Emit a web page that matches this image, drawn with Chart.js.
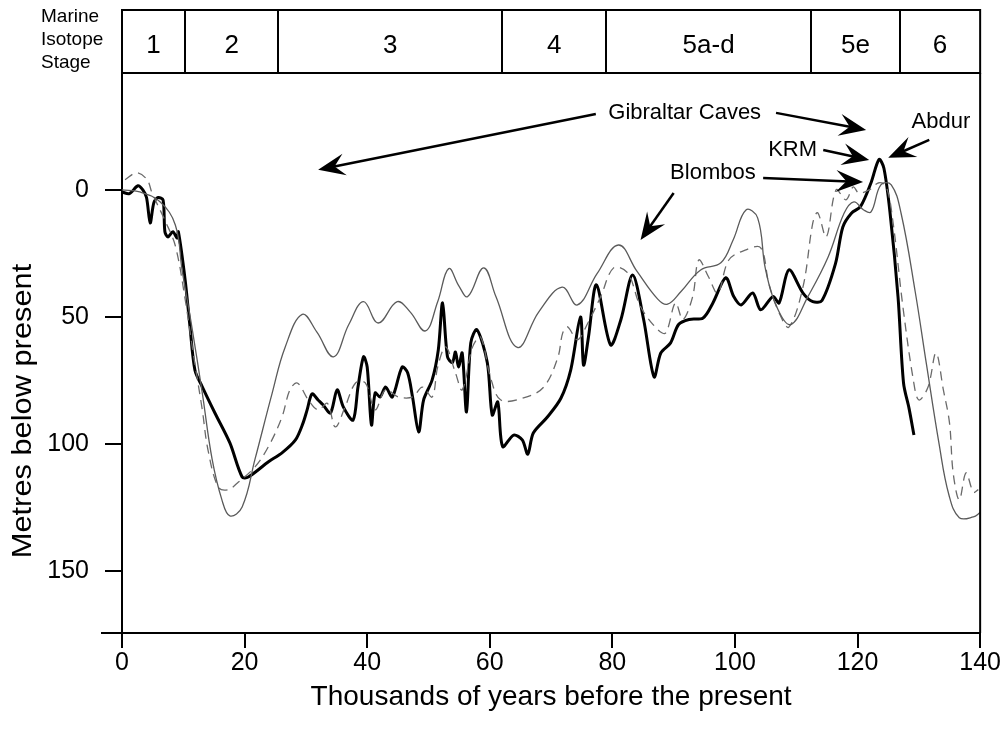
<!DOCTYPE html>
<html>
<head>
<meta charset="utf-8">
<script src="https://cdn.jsdelivr.net/npm/chart.js@4.4.1/dist/chart.umd.min.js"></script>
<style>
  html, body { margin: 0; padding: 0; background: #fff; }
  #wrap { width: 1001px; height: 738px; }
</style>
</head>
<body>
<div id="wrap"><canvas id="seaChart" width="1001" height="738"></canvas></div>
<script>
// Sea level curves, thousands of years BP vs metres below present

// thick black record
const thickAge = [0, 1.2, 2.6, 3.4, 4.0, 4.6, 5.2, 5.9, 6.7, 7.0, 7.5, 8.3, 9.0, 9.2, 10.3, 11.1, 11.9, 13.1, 15.2, 17.6, 19.6, 20.6, 23.9, 26.1, 28.3, 29.5, 30.2, 31.0, 32.0, 32.8, 34.0, 35.1, 36.1, 37.7, 38.5, 39.4, 40.0, 40.7, 41.3, 42.1, 43.0, 44.1, 45.7, 46.6, 47.4, 48.4, 49.2, 50.6, 51.6, 52.3, 53.1, 53.9, 54.4, 54.9, 55.5, 56.2, 56.9, 57.9, 59.6, 60.4, 61.3, 62.1, 63.9, 65.3, 66.2, 67.1, 69.4, 71.6, 73.2, 74.8, 75.3, 76.1, 77.4, 79.7, 81.4, 83.3, 85.1, 86.8, 87.9, 89.5, 90.8, 92.5, 94.8, 96.4, 98.5, 99.8, 101.0, 102.9, 104.2, 106.2, 107.2, 108.8, 111.1, 112.7, 114.2, 116.4, 117.6, 119.0, 120.5, 122.2, 123.5, 124.3, 125.3, 126.6, 127.5, 128.4, 129.2];
const thickDepth = [0.8, 1.5, -1.6, 0, 3, 13, 5, 3, 4, 16.5, 18.5, 16.5, 19, 16.5, 35.4, 54, 71, 77.5, 88, 99.6, 113, 113, 107, 103.5, 98.4, 92, 86.6, 80.3, 82.7, 84.6, 87.8, 78.7, 85.4, 90.6, 77.6, 65.7, 69.7, 92.5, 79.9, 81.5, 77.6, 81.5, 69.7, 72, 81.5, 95.3, 82.7, 74.8, 63, 44.5, 65.7, 68, 63.8, 69.7, 64.2, 87.4, 60.2, 55, 68, 88.6, 83.5, 101, 96.5, 98.4, 104, 95.7, 89.4, 82, 70.9, 50, 69, 57.9, 37.4, 61, 51, 33.5, 51, 73.6, 64.2, 60.2, 53, 51, 50.4, 44.5, 34.6, 42, 45.3, 40.6, 47.2, 42, 44.5, 31.5, 40.6, 44, 43.5, 29, 14.6, 9.2, 6.5, -2.8, -12, -8.5, 9, 42, 76, 86, 96.5];

// thin grey solid record
const thinAge = [0, 2.9, 6.2, 8.7, 9.8, 11.4, 13.1, 14.7, 16.3, 17.6, 19.6, 21.7, 24.5, 26.6, 29.4, 31.8, 34.5, 37.0, 39.4, 41.8, 44.9, 47.0, 49.5, 51.5, 53.3, 55.0, 56.4, 59.0, 61.0, 64.5, 68.0, 71.8, 74.3, 77.5, 81.0, 84.0, 87.4, 89.0, 91.2, 94.4, 97.7, 99.7, 101.8, 103.7, 105.0, 107.0, 109.1, 111.9, 115.2, 117.8, 119.4, 121.0, 122.2, 123.8, 125.5, 127.1, 129.4, 131.2, 133.3, 134.9, 136.6, 138.9, 140];
const thinDepth = [0, 0.8, 4.7, 13.8, 31.5, 54, 80, 106, 122, 128.3, 124.8, 106, 80, 62, 49, 56, 65.7, 53, 44, 52.4, 44, 48, 55.5, 44, 31, 38, 42, 30.7, 42, 62, 48, 38.3, 45.3, 33, 21.7, 32, 43, 45, 40, 31.5, 28.7, 19.7, 7.9, 11, 31.5, 47, 53, 42, 26.4, 9.2, 4.7, 7.9, 8.7, -2, -2, 9.2, 40, 68, 100, 120, 129, 128.7, 127];

// dashed grey record
const dashAge = [0.5, 2.4, 4.1, 4.9, 7.0, 8.7, 10.3, 11.6, 13.1, 14.0, 15.7, 17.3, 19.0, 21.7, 23.9, 26.1, 27.4, 28.6, 30.4, 32.0, 33.5, 34.8, 36.4, 38.1, 39.7, 41.3, 43.0, 45.1, 47.4, 49.0, 50.6, 51.5, 52.8, 54.4, 55.5, 57.2, 58.5, 60.1, 61.8, 65.5, 68.8, 71.1, 71.9, 72.7, 74.3, 76.0, 78.1, 80.2, 82.5, 84.6, 87.4, 88.7, 90.3, 91.5, 93.1, 94.1, 95.7, 97.2, 99.0, 101.8, 104.2, 105.5, 107.2, 108.8, 111.1, 112.7, 113.5, 114.9, 116.5, 118.1, 119.3, 120.2, 121.9, 123.5, 124.7, 125.8, 127.4, 129.1, 130.0, 131.5, 132.8, 134.0, 135.0, 135.6, 136.6, 137.7, 138.9, 139.7];
const dashDepth = [-4, -6.7, -4, 1.2, 12, 22, 43, 64, 86.6, 102, 117, 118, 115, 109, 101, 89.4, 78.7, 76, 82.7, 86.6, 84, 93.3, 85.4, 76, 76, 86.6, 78.7, 81.5, 81.5, 77.6, 81.5, 69.7, 61.8, 72, 78.7, 61.8, 57.9, 73.6, 82.7, 81.9, 77.6, 66, 56.3, 53.9, 59, 52.4, 42, 30.7, 32.7, 46, 55, 56.3, 44.5, 51, 42, 27.6, 34.3, 40.6, 27.6, 23.6, 22.8, 36.6, 48.4, 54, 38.2, 13, 9, 18.5, 0, 3.9, -1.2, 1.2, 0, -2.8, -1.2, 13, 46, 74.8, 82.7, 77.6, 64.2, 78.7, 91.7, 111.4, 122, 111.4, 119, 118];

// axis ticks
const xTicks = [0, 20, 40, 60, 80, 100, 120, 140];
const yTicks = [0, 50, 100, 150];

// marine isotope stages
const misLabels = ['1', '2', '3', '4', '5a-d', '5e', '6'];
const misBounds = [0, 10.3, 25.5, 62, 79, 112.4, 126.9, 140];

// site annotations (data units)
const annoTexts = [
  { text: 'Gibraltar Caves', x: 91.8, y: -30.3 },
  { text: 'KRM', x: 109.4, y: -15.7 },
  { text: 'Blombos', x: 96.4, y: -6.7 },
  { text: 'Abdur', x: 133.6, y: -26.8 }
];
const annoArrows = [
  { from: [77.3, -29.9], to: [32.0, -7.9] },
  { from: [106.7, -30.3], to: [121.4, -23.6] },
  { from: [114.4, -15.7], to: [121.9, -11.8] },
  { from: [104.6, -4.7], to: [120.9, -3.1] },
  { from: [131.7, -19.7], to: [125.0, -12.6] },
  { from: [90.0, 1.2], to: [84.6, 19.7] }
];

const FONT = '"Liberation Sans", Arial, sans-serif';

function pairs(xs, ys) {
  return xs.map((v, i) => ({ x: v, y: ys[i] }));
}

function drawArrow(ctx, x1, y1, x2, y2) {
  const ang = Math.atan2(y2 - y1, x2 - x1);
  const L = 27, W = 11;
  ctx.beginPath();
  ctx.moveTo(x1, y1);
  ctx.lineTo(x2 - Math.cos(ang) * 14, y2 - Math.sin(ang) * 14);
  ctx.stroke();
  ctx.save();
  ctx.translate(x2, y2);
  ctx.rotate(ang);
  ctx.beginPath();
  ctx.moveTo(0, 0);
  ctx.lineTo(-L, -W);
  ctx.lineTo(-L * 0.62, 0);
  ctx.lineTo(-L, W);
  ctx.closePath();
  ctx.fill();
  ctx.restore();
}

const overlay = {
  id: 'overlay',
  afterDraw(chart) {
    const { ctx, chartArea: a } = chart;
    const xs = chart.scales.x, ys = chart.scales.y;
    const bandTop = 10;
    ctx.save();
    ctx.strokeStyle = '#000';
    ctx.fillStyle = '#000';
    ctx.lineWidth = 2;

    // stage band
    ctx.strokeRect(a.left, bandTop, a.right - a.left, a.top - bandTop);
    ctx.beginPath();
    for (let i = 1; i < misBounds.length - 1; i++) {
      const px = Math.round(xs.getPixelForValue(misBounds[i]));
      ctx.moveTo(px, bandTop);
      ctx.lineTo(px, a.top);
    }
    ctx.stroke();
    ctx.font = '26px ' + FONT;
    ctx.textAlign = 'center';
    ctx.textBaseline = 'middle';
    for (let i = 0; i < misLabels.length; i++) {
      const cx = (xs.getPixelForValue(misBounds[i]) + xs.getPixelForValue(misBounds[i + 1])) / 2;
      ctx.fillText(misLabels[i], cx, 46);
    }
    ctx.font = '19px ' + FONT;
    ctx.textAlign = 'left';
    ctx.fillText('Marine', 41, 17);
    ctx.fillText('Isotope', 41, 40);
    ctx.fillText('Stage', 41, 63);

    // right frame + x axis running past the y axis
    ctx.beginPath();
    ctx.moveTo(a.right, a.top);
    ctx.lineTo(a.right, a.bottom);
    ctx.moveTo(101, a.bottom);
    ctx.lineTo(a.left, a.bottom);
    ctx.stroke();

    // y axis title, a little lower than the axis middle
    ctx.save();
    ctx.translate(23, 411);
    ctx.rotate(-Math.PI / 2);
    ctx.scale(1.1, 1);
    ctx.font = '28px ' + FONT;
    ctx.textAlign = 'center';
    ctx.fillText('Metres below present', 0, 0);
    ctx.restore();

    // annotations
    ctx.font = '22px ' + FONT;
    ctx.textAlign = 'center';
    for (const t of annoTexts) {
      ctx.fillText(t.text, xs.getPixelForValue(t.x), ys.getPixelForValue(t.y));
    }
    ctx.lineWidth = 2.5;
    for (const ar of annoArrows) {
      drawArrow(ctx,
        xs.getPixelForValue(ar.from[0]), ys.getPixelForValue(ar.from[1]),
        xs.getPixelForValue(ar.to[0]), ys.getPixelForValue(ar.to[1]));
    }
    ctx.restore();
  }
};

const ctx = document.getElementById('seaChart').getContext('2d');
new Chart(ctx, {
  type: 'line',
  data: {
    datasets: [
      {
        label: 'thin',
        data: pairs(thinAge, thinDepth),
        borderColor: '#5a5a5a',
        borderWidth: 1.3,
        tension: 0.4,
        pointRadius: 0
      },
      {
        label: 'dashed',
        data: pairs(dashAge, dashDepth),
        borderColor: '#6a6a6a',
        borderWidth: 1.3,
        borderDash: [9, 6],
        tension: 0.35,
        pointRadius: 0
      },
      {
        label: 'thick',
        data: pairs(thickAge, thickDepth),
        borderColor: '#000',
        borderWidth: 3,
        tension: 0.3,
        pointRadius: 0
      }
    ]
  },
  options: {
    responsive: false,
    animation: false,
    layout: { padding: { left: 8, right: 18, top: 73, bottom: 0 } },
    plugins: {
      legend: { display: false },
      tooltip: { enabled: false }
    },
    scales: {
      x: {
        type: 'linear',
        min: 0,
        max: 140,
        afterBuildTicks: (s) => { s.ticks = xTicks.map(v => ({ value: v })); },
        afterFit: (s) => { s.height = 105; },
        grid: { drawOnChartArea: false, drawTicks: true, tickLength: 15, color: '#000', lineWidth: 2 },
        border: { display: true, color: '#000', width: 2 },
        ticks: { color: '#000', padding: 0, font: { family: FONT, size: 25 }, maxRotation: 0 },
        title: { display: true, text: 'Thousands of years before the present', color: '#000', font: { family: FONT, size: 28 }, padding: { top: 0, bottom: 24 } }
      },
      y: {
        type: 'linear',
        reverse: true,
        min: -46,
        max: 174.4,
        afterBuildTicks: (s) => { s.ticks = yTicks.map(v => ({ value: v })); },
        afterFit: (s) => { s.width = 114; },
        grid: { drawOnChartArea: false, drawTicks: true, tickLength: 17, color: '#000', lineWidth: 2 },
        border: { display: true, color: '#000', width: 2 },
        ticks: { color: '#000', padding: 16, font: { family: FONT, size: 25 } },
        title: { display: false }
      }
    }
  },
  plugins: [overlay]
});
</script>
</body>
</html>
